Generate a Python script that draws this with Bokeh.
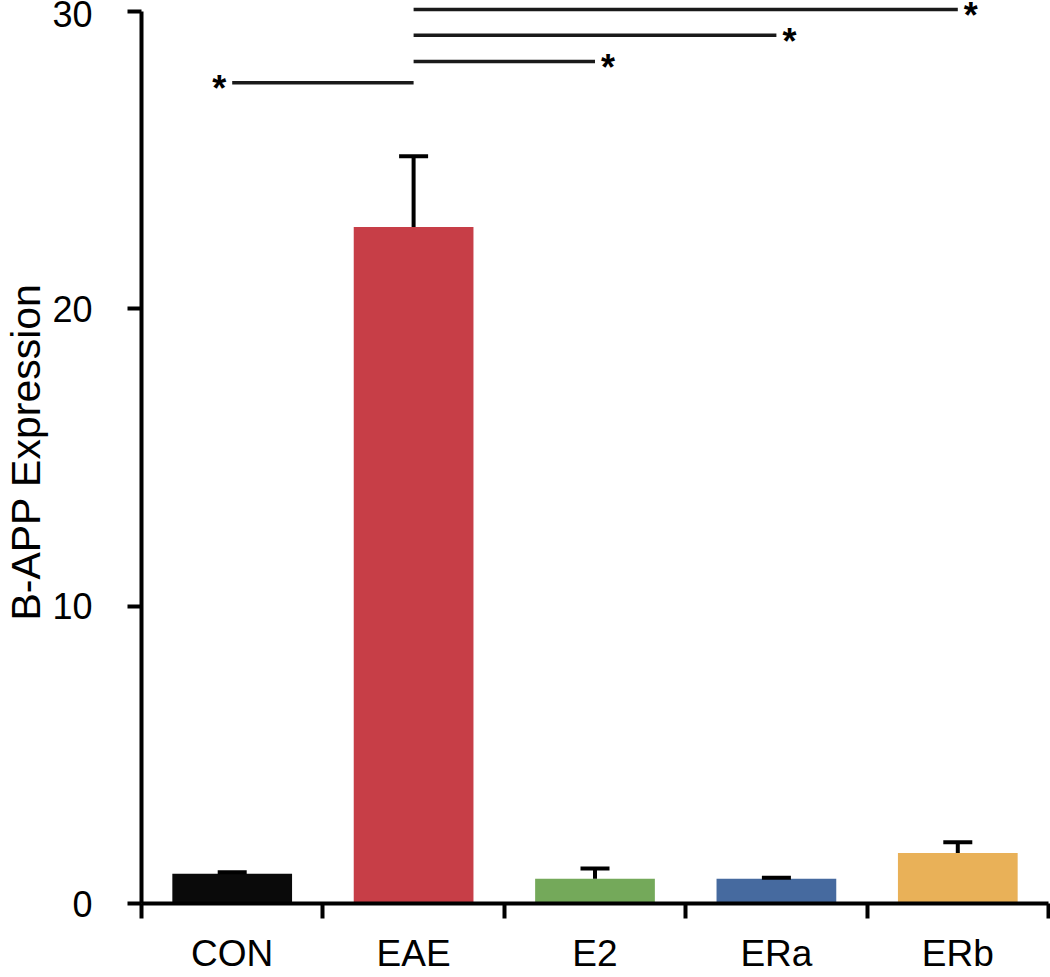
from bokeh.plotting import figure
from bokeh.models import Range1d, FixedTicker, LinearAxis, Whisker, TeeHead, ColumnDataSource
from bokeh.core.properties import value
from bokeh.embed import file_html
from bokeh.resources import INLINE

# ---- data ----
categories = ["CON", "EAE", "E2", "ERa", "ERb"]
means = [1.0, 22.75, 0.83, 0.83, 1.70]
errors = [0.05, 2.38, 0.35, 0.04, 0.36]
colors = ["#0a0a0a", "#c73e47", "#74a95a", "#466a9f", "#e9b158"]
y_ticks = [0, 10, 20, 30]
y_label = "B-APP Expression"

# significance comparisons
sig_a = ["CON", "EAE", "EAE", "EAE"]
sig_b = ["EAE", "E2", "ERa", "ERb"]
sig_y = [27.6, 28.32, 29.2, 30.07]
sig_star_side = ["left", "right", "right", "right"]

FONT = "Liberation Sans"

centers = [i + 0.5 for i in range(len(categories))]
pos = dict(zip(categories, centers))

p = figure(width=1050, height=977, x_range=Range1d(0, len(categories)),
           y_range=Range1d(0, 30.37), output_backend="svg", toolbar_location=None,
           x_axis_location=None)
p.min_border_left = 141
p.min_border_right = 2
p.min_border_top = 0
p.min_border_bottom = 74
p.outline_line_color = None
p.grid.visible = False
p.background_fill_color = "white"
p.border_fill_color = "white"

# bars
src = ColumnDataSource(dict(x=centers, top=means, color=colors,
                            lower=means, upper=[m + e for m, e in zip(means, errors)]))
p.vbar(x="x", top="top", width=0.66, fill_color="color", line_color=None, source=src)

wh = Whisker(base="x", lower="lower", upper="upper", dimension="height", source=src,
             line_width=4, line_color="black", lower_head=None,
             upper_head=TeeHead(size=29, line_width=4, line_color="black"), level="overlay")
p.add_layout(wh)

# significance lines and stars
x0 = [pos[a] for a in sig_a]
x1 = [pos[b] for b in sig_b]
p.segment(x0=x0, y0=sig_y, x1=x1, y1=sig_y, line_width=3.5, line_color="#1a1a1a")
star_x = [a if s == "left" else b for a, b, s in zip(x0, x1, sig_star_side)]
star_off = [-13 if s == "left" else 13 for s in sig_star_side]
p.text(x=star_x, y=sig_y, text=["*"] * len(sig_y), x_offset=star_off, y_offset=6,
       text_align="center", text_baseline="middle", text_font=value(FONT),
       text_font_size="36px", text_font_style="bold", text_color="black")

# y axis
ya = p.yaxis[0]
ya.ticker = FixedTicker(ticks=y_ticks)
ya.bounds = (0, 30)
ya.minor_tick_line_color = None
ya.major_tick_out = 14
ya.major_tick_in = 0
ya.major_tick_line_width = 4
ya.axis_line_width = 4
ya.axis_line_color = "black"
ya.major_tick_line_color = "black"
ya.major_label_standoff = 35
ya.major_label_text_font = FONT
ya.major_label_text_font_size = "36px"
ya.major_label_text_color = "black"
ya.axis_label = y_label
ya.axis_label_text_font = FONT
ya.axis_label_text_font_size = "41px"
ya.axis_label_text_font_style = "normal"
ya.axis_label_text_color = "black"
ya.axis_label_standoff = 0

# x axis: boundary ticks
xa = LinearAxis(ticker=FixedTicker(ticks=list(range(len(categories) + 1))))
xa.bounds = (0, len(categories))
xa.major_label_overrides = {i: "" for i in range(len(categories) + 1)}
xa.major_label_text_font_size = "1px"
xa.major_label_standoff = 0
xa.minor_tick_line_color = None
xa.major_tick_out = 15
xa.major_tick_in = 0
xa.major_tick_line_width = 4
xa.axis_line_width = 4
xa.axis_line_color = "black"
xa.major_tick_line_color = "black"
p.add_layout(xa, "below")

# x axis: category labels
xl = LinearAxis(ticker=FixedTicker(ticks=centers))
xl.major_label_overrides = {c: name for c, name in zip(centers, categories)}
xl.axis_line_color = None
xl.major_tick_line_color = None
xl.minor_tick_line_color = None
xl.major_tick_out = 0
xl.major_tick_in = 0
xl.major_label_standoff = 14
xl.major_label_text_font = FONT
xl.major_label_text_font_size = "37px"
xl.major_label_text_color = "black"
p.add_layout(xl, "below")

open("out.html", "w").write(file_html(p, INLINE))
